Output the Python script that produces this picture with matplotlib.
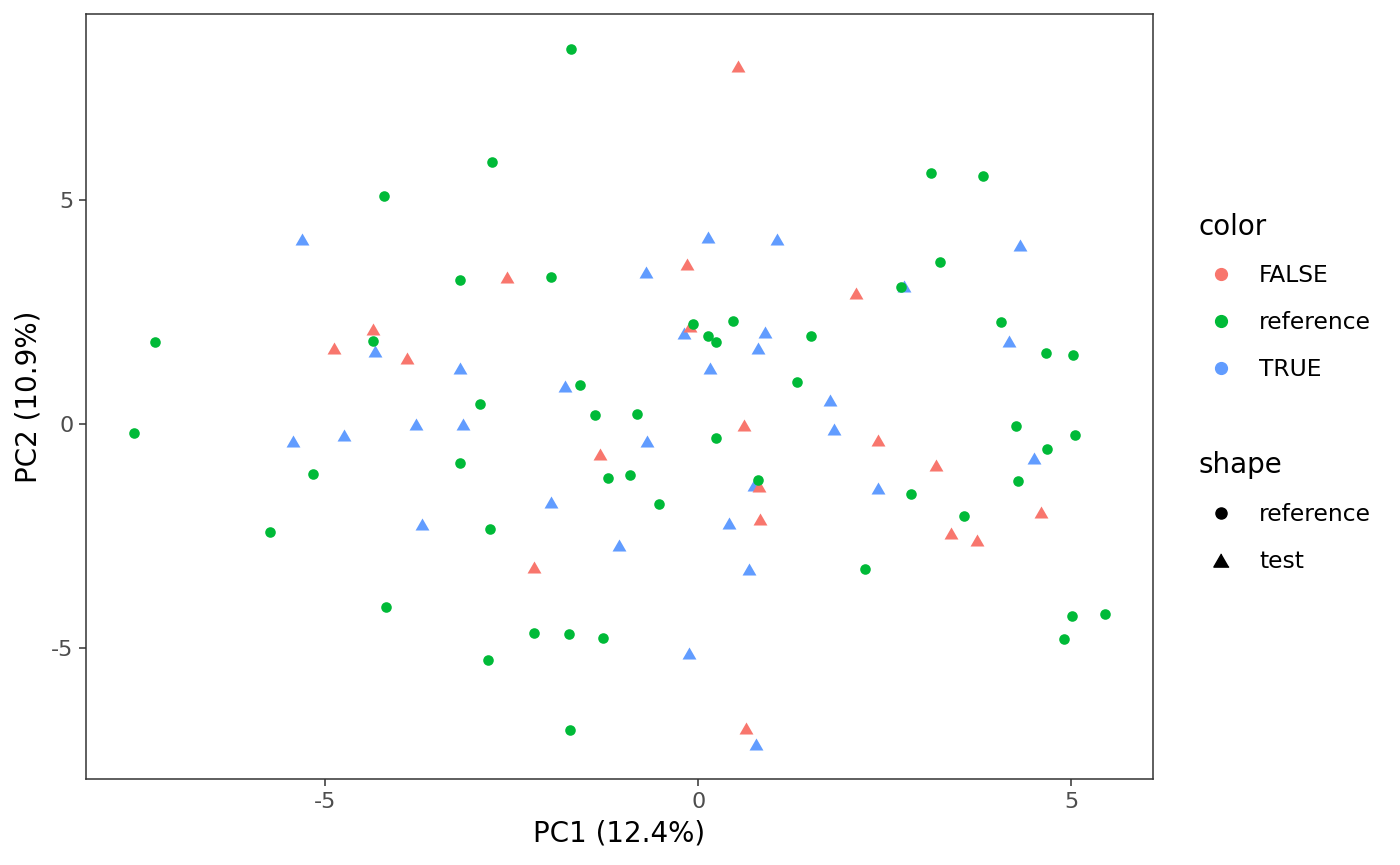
import matplotlib
matplotlib.use("Agg")
import matplotlib.pyplot as plt
from matplotlib.lines import Line2D

plt.rcParams["axes.unicode_minus"] = False

# reference samples (green circles)
ref_pc1 = [-1.70, -2.77, -4.21, 3.12, 3.82, -1.98, -3.19, 3.24, -7.29, -4.36,
           2.72, 4.06, 0.47, -0.07, 0.13, 0.24, 1.51, 4.66, 5.03, -1.58,
           1.33, -2.92, -1.39, -0.82, -7.57, 4.26, 5.05, 0.24, 4.68, -3.20,
           -5.16, -0.91, -1.21, 0.80, 4.29, -0.52, 2.86, 3.57, -2.79, -5.74,
           2.24, -4.18, -2.20, -1.73, -1.27, 5.01, 5.46, 4.91, -2.82, -1.72]
ref_pc2 = [8.37, 5.85, 5.09, 5.60, 5.54, 3.28, 3.21, 3.62, 1.83, 1.85,
           3.06, 2.28, 2.30, 2.23, 1.96, 1.83, 1.96, 1.58, 1.54, 0.87,
           0.94, 0.45, 0.20, 0.22, -0.20, -0.04, -0.25, -0.31, -0.56, -0.87,
           -1.12, -1.14, -1.21, -1.25, -1.27, -1.79, -1.56, -2.05, -2.34, -2.41,
           -3.24, -4.08, -4.67, -4.69, -4.78, -4.29, -4.24, -4.80, -5.27, -6.83]

# test samples, color = FALSE (red triangles)
false_pc1 = [0.54, -0.15, -2.57, -4.36, -4.88, -3.90, -0.11, 0.62, -1.31, 0.82,
             0.83, 2.12, 2.41, 3.19, 4.60, 3.39, 3.74, -2.20, 0.64]
false_pc2 = [7.99, 3.57, 3.28, 2.12, 1.70, 1.47, 2.19, -0.02, -0.67, -1.38,
             -2.12, 2.92, -0.36, -0.92, -1.96, -2.43, -2.59, -3.19, -6.79]

# test samples, color = TRUE (blue triangles)
true_pc1 = [-5.31, 0.13, 1.06, -0.70, 4.32, -4.34, -5.44, -4.75, -3.78, -3.70,
            -0.19, 0.90, 0.80, 0.16, -3.19, -1.78, -3.15, -0.68, 0.75, -1.98,
            0.42, 2.76, 4.17, 1.77, 1.82, 4.50, 2.41, -1.06, 0.68, -0.12, 0.78]
true_pc2 = [4.13, 4.17, 4.13, 3.39, 4.00, 1.63, -0.38, -0.25, 0.00, -2.23,
            2.03, 2.05, 1.70, 1.25, 1.25, 0.85, 0.00, -0.38, -1.36, -1.74,
            -2.21, 3.08, 1.85, 0.54, -0.11, -0.76, -1.43, -2.70, -3.24, -5.11, -7.14]

x_label = "PC1 (12.4%)"
y_label = "PC2 (10.9%)"

RED, GREEN, BLUE = "#F8766D", "#00BA38", "#619CFF"
TRI = [(0, 0.866), (-1, -0.866), (1, -0.866)]

fig = plt.figure(figsize=(14, 8.65), dpi=100)
ax = fig.add_axes([0.0614, 0.0994, 0.7622, 0.8844])

ax.scatter(true_pc1, true_pc2, marker=TRI, s=100, color=BLUE, linewidths=0)
ax.scatter(false_pc1, false_pc2, marker=TRI, s=100, color=RED, linewidths=0)
ax.scatter(ref_pc1, ref_pc2, marker="o", s=58, color=GREEN, linewidths=0)

ax.set_xlim(-8.21, 6.10)
ax.set_ylim(-7.92, 9.15)
ax.set_xticks([-5, 0, 5])
ax.set_yticks([-5, 0, 5])
ax.tick_params(labelsize=16, labelcolor="#4D4D4D", color="#333333",
               length=5, width=1.1, pad=4)
for sp in ax.spines.values():
    sp.set_color("#333333")
    sp.set_linewidth(1.1)
ax.set_xlabel(x_label, fontsize=20, labelpad=6)
ax.set_ylabel(y_label, fontsize=20, labelpad=6)

# legends
color_handles = [
    Line2D([0], [0], marker="o", ls="", color=RED, markersize=8.5, label="FALSE"),
    Line2D([0], [0], marker="o", ls="", color=GREEN, markersize=8.5, label="reference"),
    Line2D([0], [0], marker="o", ls="", color=BLUE, markersize=8.5, label="TRUE"),
]
shape_handles = [
    Line2D([0], [0], marker="o", ls="", color="black", markersize=8, label="reference"),
    Line2D([0], [0], marker=TRI, ls="", color="black", markersize=11, label="test"),
]
kw = dict(frameon=False, fontsize=16.8, title_fontsize=20, alignment="left",
          handlelength=1.9, handletextpad=0.7, labelspacing=1.02, borderpad=0.4,
          borderaxespad=0, loc="upper left")
fig.legend(handles=color_handles, title="color",
           bbox_to_anchor=(0.8494, 0.765), **kw)
fig.legend(handles=shape_handles, title="shape",
           bbox_to_anchor=(0.8494, 0.489), **kw)

fig.savefig("out.png", dpi=100)
